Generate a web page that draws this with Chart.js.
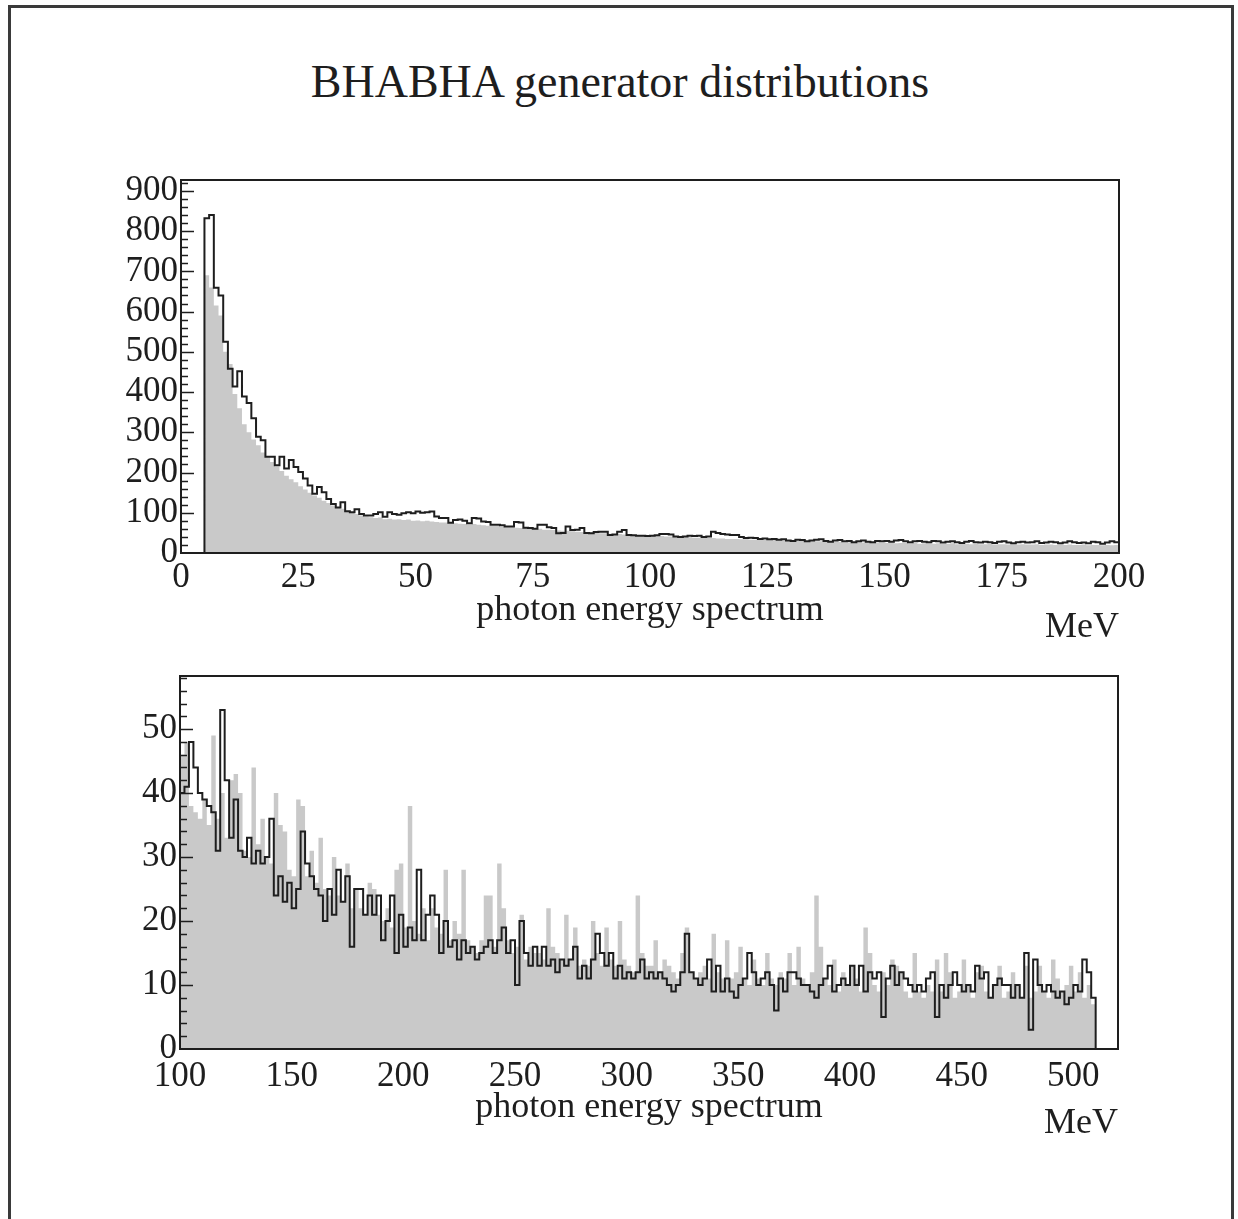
<!DOCTYPE html>
<html><head><meta charset="utf-8">
<script src="https://cdn.jsdelivr.net/npm/chart.js@4.4.1/dist/chart.umd.min.js"></script>
<style>
html,body{margin:0;padding:0;background:#fff;}
body{width:1238px;height:1219px;position:relative;overflow:hidden;font-family:"Liberation Serif",serif;color:#1e1e1e;}
#frame{position:absolute;left:8px;top:5px;width:1226px;height:1300px;border:3px solid #3a3a3a;border-bottom:none;box-sizing:border-box;}
#title{position:absolute;left:0;width:1240px;top:59px;text-align:center;font-size:46px;line-height:46px;white-space:nowrap;}
canvas{position:absolute;left:0;top:0;}
</style></head>
<body>
<div id="frame"></div>
<div id="title">BHABHA generator distributions</div>
<canvas id="c1" width="1238" height="1219"></canvas>
<canvas id="c2" width="1238" height="1219"></canvas>
<script>
// ---------- data: upper panel (1 MeV bins starting at 5 MeV) ----------
const topFirstEdge = 5;
const topBinWidth = 1;
const topBlack = [
 832,840,659,640,525,458,414,452,389,373,
 335,289,280,239,239,218,239,210,231,214,
 201,185,168,147,164,151,134,122,113,126,
 104,101,109,97,93,93,97,101,90,101,
 97,95,99,101,99,103,100,101,103,91,
 87,87,75,82,83,80,74,87,86,78,
 77,70,70,69,66,66,77,76,63,62,
 60,70,70,64,62,49,50,66,57,58,
 62,50,49,52,53,53,45,46,53,57,
 45,44,43,43,42,43,44,47,47,46,
 41,40,41,43,42,43,40,41,53,50,
 47,46,45,45,40,37,38,37,35,36,
 34,35,33,34,31,30,33,32,29,31,
 33,34,30,28,31,32,29,30,27,29,
 31,28,27,30,29,30,28,31,32,29,
 27,29,30,28,27,30,29,26,28,29,
 27,25,28,30,27,26,28,27,25,28,
 29,26,24,27,28,26,27,29,25,26,
 28,27,24,26,29,27,25,26,24,28,
 27,23,26,29,27
];
const topGray = [
 690,660,615,590,500,470,395,360,320,300,
 282,268,250,238,226,215,204,192,183,176,
 166,158,150,143,137,130,124,118,113,110,
 104,100,97,93,91,89,87,88,84,85,
 83,84,82,83,80,81,79,80,78,77,
 76,76,74,74,73,72,71,72,70,69,
 68,67,67,65,64,64,63,62,62,61,
 60,60,58,58,57,56,55,55,54,53,
 52,52,51,50,49,49,48,47,47,46,
 45,45,44,44,43,43,42,42,41,41,
 40,40,39,39,38,38,38,37,37,36,
 36,35,35,35,34,34,33,33,33,32,
 32,32,31,31,31,30,30,30,29,29,
 29,29,28,28,28,28,27,27,27,27,
 26,26,26,26,26,25,26,24,25,25,
 24,25,23,24,24,23,24,23,23,24,
 22,23,23,22,23,22,22,23,21,22,
 22,21,22,21,22,21,21,22,20,21,
 21,20,21,20,21,20,20,21,19,20,
 20,19,20,19,20
];
const topXTicks = [0,25,50,75,100,125,150,175,200];
const topYTicks = [0,100,200,300,400,500,600,700,800,900];

// ---------- data: lower panel (2 MeV bins starting at 100 MeV) ----------
const botFirstEdge = 100;
const botBinWidth = 2;
const botGray = [
 46,48,38,37,36,39,35,49,36,40,
 33,42,43,40,31,30,44,32,36,30,
 29,40,35,34,28,27,39,38,27,31,
 26,33,25,24,30,24,23,29,22,25,
 22,21,26,25,21,20,22,19,28,29,
 19,38,20,18,22,17,22,19,18,28,
 17,20,18,28,17,16,15,17,24,24,
 16,29,22,17,15,16,21,14,16,15,
 15,14,22,16,15,14,21,14,19,13,
 14,13,20,15,13,19,14,13,20,14,
 13,12,24,15,13,13,17,12,14,13,
 12,11,15,19,12,11,12,13,11,18,
 12,11,17,11,12,16,11,10,14,11,
 10,15,11,10,12,11,15,10,16,11,
 10,12,24,16,11,10,14,9,12,10,
 13,11,9,19,15,10,9,12,10,14,
 13,12,9,8,15,9,8,10,9,14,
 9,15,12,8,9,14,10,8,12,13,
 9,8,10,13,8,9,12,10,8,13,
 8,9,13,9,8,14,11,9,10,13,
 9,12,8,10,7
];
const botBlack = [
 40,41,48,44,40,39,38,37,31,53,
 42,33,39,31,30,33,29,31,29,30,
 36,24,27,23,26,22,25,34,29,27,
 25,24,20,25,21,28,23,27,16,25,
 25,21,24,21,24,17,20,24,15,21,
 16,19,17,28,17,21,24,21,15,20,
 16,17,14,17,15,16,14,15,16,17,
 15,17,19,15,17,10,20,15,13,16,
 13,16,13,14,12,14,13,14,16,11,
 13,11,14,18,15,13,15,11,13,11,
 12,11,12,14,11,12,11,12,11,10,
 9,10,12,18,12,11,10,11,14,9,
 13,9,11,9,8,10,11,15,12,10,
 11,12,10,6,11,9,12,12,11,10,
 10,9,8,10,11,13,9,10,11,10,
 13,10,13,9,12,11,12,5,11,13,
 10,12,11,10,9,10,9,11,12,5,
 10,8,10,12,10,9,10,9,13,11,
 12,8,10,11,10,10,8,10,8,15,
 3,14,10,9,10,9,8,9,7,8,
 10,9,14,12,8
];
const botXTicks = [100,150,200,250,300,350,400,450,500];
const botYTicks = [0,10,20,30,40,50];

const xTitle = 'photon energy spectrum';
const unitLabel = 'MeV';

// ---------- helpers ----------
const FAMILY = '"Liberation Serif", "Times New Roman", serif';
const INK = '#1e1e1e';
const GRAY = '#c9c9c9';

function stepPoints(firstEdge, width, values, dropAtEnd) {
  const pts = [{x: firstEdge, y: 0}];
  values.forEach((v, i) => pts.push({x: firstEdge + i * width, y: v}));
  pts.push({x: firstEdge + values.length * width, y: dropAtEnd ? 0 : values[values.length - 1]});
  return pts;
}

const framePlugin = {
  id: 'frameTicks',
  afterDraw(chart, args, opts) {
    const {ctx, chartArea: a, scales} = chart;
    const ys = scales.y;
    ctx.save();
    ctx.strokeStyle = INK;
    ctx.lineWidth = 1.5;
    for (let v = 0; v <= ys.max + 1e-9; v += opts.minorStep) {
      const p = Math.round(ys.getPixelForValue(v)) + 0.5;
      if (p < a.top + 1 || p > a.bottom - 1) continue;
      const major = Math.abs(v / opts.majorStep - Math.round(v / opts.majorStep)) < 1e-6;
      ctx.beginPath();
      ctx.moveTo(a.left, p);
      ctx.lineTo(a.left + (major ? 13 : 7), p);
      ctx.stroke();
    }
    ctx.lineWidth = 2;
    ctx.strokeRect(a.left, a.top, a.right - a.left, a.bottom - a.top);
    ctx.fillStyle = INK;
    ctx.font = '36px ' + FAMILY;
    ctx.textAlign = 'right';
    ctx.textBaseline = 'middle';
    ctx.fillText(opts.unit, a.right, a.bottom + 75);
    ctx.restore();
  }
};

function makeChart(id, cfg) {
  return new Chart(document.getElementById(id), {
    type: 'line',
    data: {
      datasets: [
        {data: cfg.black, stepped: true, borderColor: INK, borderWidth: cfg.blackWidth,
         pointRadius: 0, fill: false, tension: 0},
        {data: cfg.gray, stepped: true, borderColor: 'rgba(0,0,0,0)', borderWidth: 0,
         backgroundColor: GRAY, pointRadius: 0, fill: 'origin', tension: 0}
      ]
    },
    options: {
      responsive: false, animation: false, devicePixelRatio: 1, events: [],
      layout: {padding: cfg.padding},
      plugins: {legend: {display: false}, tooltip: {enabled: false},
        frameTicks: {minorStep: cfg.minorStep, majorStep: cfg.majorStep, unit: unitLabel}},
      scales: {
        x: {
          type: 'linear', min: cfg.xMin, max: cfg.xMax,
          afterBuildTicks: s => { s.ticks = cfg.xTicks.map(v => ({value: v})); },
          afterFit: s => { s.height = 100; },
          grid: {display: false, drawTicks: false}, border: {display: false},
          ticks: {color: INK, font: {family: FAMILY, size: 35}, padding: cfg.xTickPad,
                  maxRotation: 0, autoSkip: false},
          title: {display: true, text: xTitle, color: INK, font: {family: FAMILY, size: 36},
                  padding: {top: 0, bottom: cfg.titlePad}}
        },
        y: {
          type: 'linear', min: 0, max: cfg.yMax,
          afterBuildTicks: s => { s.ticks = cfg.yTicks.map(v => ({value: v})); },
          afterFit: s => { s.width = cfg.yWidth; },
          grid: {display: false, drawTicks: false}, border: {display: false},
          ticks: {color: INK, font: {family: FAMILY, size: 35}, padding: 3, autoSkip: false}
        }
      }
    },
    plugins: [framePlugin]
  });
}

makeChart('c1', {
  black: stepPoints(topFirstEdge, topBinWidth, topBlack, false),
  gray: stepPoints(topFirstEdge, topBinWidth, topGray, false),
  blackWidth: 2,
  xMin: 0, xMax: 200, yMax: 927,
  xTicks: topXTicks, yTicks: topYTicks,
  minorStep: 20, majorStep: 100,
  padding: {left: 0, top: 180, right: 119, bottom: 566},
  yWidth: 181, xTickPad: 4, titlePad: 21
});

makeChart('c2', {
  black: stepPoints(botFirstEdge, botBinWidth, botBlack, true),
  gray: stepPoints(botFirstEdge, botBinWidth, botGray, true),
  blackWidth: 2,
  xMin: 100, xMax: 520, yMax: 58.3,
  xTicks: botXTicks, yTicks: botYTicks,
  minorStep: 2, majorStep: 10,
  padding: {left: 0, top: 676, right: 120, bottom: 70},
  yWidth: 180, xTickPad: 7, titlePad: 20
});
</script>
</body></html>
